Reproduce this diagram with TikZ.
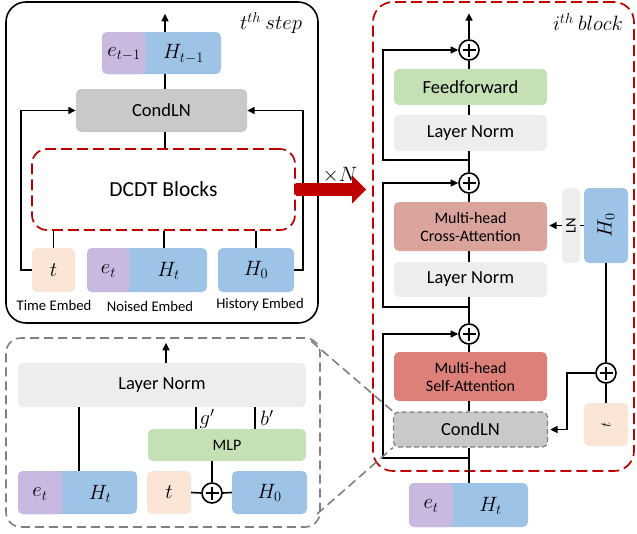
\documentclass[tikz,border=0pt]{standalone}
\usepackage{fontspec}
\setmainfont{Carlito}
\usetikzlibrary{arrows.meta}
\definecolor{cpurple}{RGB}{201,185,224}
\definecolor{cblue}{RGB}{157,195,230}
\definecolor{cpeach}{RGB}{251,229,214}
\definecolor{cgray}{RGB}{201,201,201}
\definecolor{clight}{RGB}{237,237,237}
\definecolor{cgreen}{RGB}{197,224,180}
\definecolor{ccross}{RGB}{218,163,155}
\definecolor{cself}{RGB}{222,128,122}
\definecolor{cred}{RGB}{192,0,0}
\definecolor{cdash}{RGB}{128,128,128}
\newcommand{\myfmain}{\fontsize{18.5}{20}\selectfont}
\newcommand{\myfmid}{\fontsize{16}{19}\selectfont}
\newcommand{\myfsmall}{\fontsize{14.7}{16}\selectfont}
\newcommand{\myfbig}{\fontsize{21.5}{24}\selectfont}
\newcommand{\myfmath}{\fontsize{19.5}{21}\selectfont}
\newcommand{\myfmathsm}{\fontsize{15}{17}\selectfont}
\begin{document}
\begin{tikzpicture}[x=1pt,y=-1pt,
  box/.style={rounded corners=5pt, inner sep=0pt, align=center, font=\myfmain},
  ln/.style={line width=1.6pt, draw=black},
  arr/.style={line width=1.6pt, draw=black, -{Triangle[length=7.5pt,width=7pt]}},
  plusc/.style={circle, draw, line width=1.6pt, fill=white, minimum size=20pt, inner sep=0pt,
    path picture={\draw[line width=1.6pt] ([xshift=-6.5pt]path picture bounding box.center) -- ([xshift=6.5pt]path picture bounding box.center)
      ([yshift=-6.5pt]path picture bounding box.center) -- ([yshift=6.5pt]path picture bounding box.center);}},
  reddash/.style={draw=cred, line width=1.7pt, dash pattern=on 11pt off 5pt},
  graydash/.style={draw=cdash, line width=1.6pt, dash pattern=on 9pt off 5pt},
  mtext/.style={inner sep=0pt, font=\myfmath},
  splitbox/.style={box, fill=cblue, path picture={\fill[cpurple] (path picture bounding box.north west) rectangle ([xshift=#1]path picture bounding box.south west);}}
]
\useasboundingbox (0,0) rectangle (637,533);

\coordinate (z1) at (311,341);
\coordinate (z2) at (317,514);

% ================= top-left panel =================
\node[draw, line width=1.6pt, rounded corners=20pt, minimum width=312pt, minimum height=321pt, inner sep=0pt] (stepbox) at (162,162.5) {};
\node[font=\myfmath, inner sep=0pt] (steplbl) at (271,23) {$t^{th}\ step$};

\node[splitbox=44pt, minimum width=119pt, minimum height=42pt] (outb) at (161.5,53) {};
\node[mtext] (outE) at (124,54) {$e_{t-1}$};
\node[mtext] (outH) at (183.5,54) {$H_{t-1}$};

\node[box, fill=cgray, minimum width=171pt, minimum height=43pt] (condA) at (161.5,110.5) {CondLN};
\node[box, reddash, rounded corners=15pt, minimum width=263pt, minimum height=81pt, font=\myfbig] (dcdt) at (163.5,189.5) {DCDT Blocks};

\node[box, fill=cpeach, minimum width=43pt, minimum height=44pt, font=\myfmath] (tA) at (53.5,270) {$t$};
\node[splitbox=43pt, minimum width=120pt, minimum height=44pt] (noisA) at (147,270) {};
\node[mtext] (noisE) at (108.5,271) {$e_t$};
\node[mtext] (noisH) at (168.5,271) {$H_t$};
\node[box, fill=cblue, minimum width=76pt, minimum height=44pt, font=\myfmath] (h0A) at (256,270) {$H_0$};

\node[font=\myfsmall, inner sep=0pt] (lblT) at (54,305) {Time Embed};
\node[font=\myfsmall, inner sep=0pt] (lblN) at (150,306) {Noised Embed};
\node[font=\myfsmall, inner sep=0pt] (lblH) at (260,305) {History Embed};

\coordinate (sx) at (165,0);
\draw[ln] (condA.north -| sx) -- (outb.south -| sx);
\draw[arr] (outb.north -| sx) -- ++(0,-18);
\draw[ln] (dcdt.north -| sx) -- (condA.south -| sx);
\coordinate (sxn) at (164,0);
\draw[ln] (noisA.north -| sxn) -- (dcdt.south -| sxn);
\draw[ln] (tA.north) -- (tA.north |- dcdt.south);
\draw[ln] (h0A.north) -- (h0A.north |- dcdt.south);
\draw[arr] (tA.west) -- ++(-11,0) |- (condA.west);
\draw[arr] (h0A.east) -- ++(9,0) |- (condA.east);

% ================= right panel =================
\node[reddash, rounded corners=20pt, minimum width=261pt, minimum height=469pt, inner sep=0pt] (blk) at (503.5,236.5) {};
\node[font=\myfmath, inner sep=0pt] (blklbl) at (588,22) {$i^{th}\ block$};

\draw[cred, line width=13pt, -{Triangle[length=14pt,width=27pt]}, shorten >=6pt] (dcdt.east) -- (dcdt.east -| blk.west);
\node[font=\myfmath, inner sep=0pt] (xN) at (340,175) {$\times N$};

\node[plusc] (pl1) at (469,50) {};
\node[box, fill=cgreen, minimum width=153pt, minimum height=36pt] (ff) at (470.5,87) {Feedforward};
\node[box, fill=clight, minimum width=153pt, minimum height=36pt] (ln1) at (470.5,133) {Layer Norm};
\node[plusc] (pl2) at (469,183) {};
\node[box, fill=ccross, minimum width=153pt, minimum height=49pt, font=\myfmid] (ca) at (470.5,226.5) {Multi-head\\[-1pt]Cross-Attention};
\node[box, fill=clight, minimum width=153pt, minimum height=35pt] (ln2) at (470.5,279.5) {Layer Norm};
\node[plusc] (pl3) at (469,334) {};
\node[box, fill=cself, minimum width=153pt, minimum height=49pt, font=\myfmid] (sa) at (470.5,376.5) {Multi-head\\[-1pt]Self-Attention};
\node[box, fill=cgray, draw=cdash, line width=1.3pt, dash pattern=on 5pt off 3pt, minimum width=154pt, minimum height=35pt] (cond2) at (470.5,429.5) {CondLN};
\node[splitbox=44pt, minimum width=119pt, minimum height=44pt] (etR) at (468.5,505) {};
\node[mtext] (etRE) at (431,506) {$e_t$};
\node[mtext] (etRH) at (490.5,506) {$H_t$};

\node[box, fill=clight, minimum width=18pt, minimum height=75pt] (lnv) at (571,225.5) {};
\node[rotate=90, font=\myfsmall, inner sep=0pt] (lnvT) at (571,225.5) {LN};
\node[box, fill=cblue, minimum width=44pt, minimum height=75pt] (h0v) at (606,225.5) {};
\node[rotate=90, mtext] (h0vT) at (606,225.5) {$H_0$};
\node[plusc] (pl4) at (606,373) {};
\node[box, fill=cpeach, minimum width=44pt, minimum height=43pt] (tv) at (606,424.5) {};
\node[rotate=90, inner sep=0pt, font=\myfmathsm] (tvT) at (606,424.5) {$t$};

\draw[arr] (pl1.north) -- ++(0,-26);
\draw[ln] (pl1.south) -- (pl1.south |- ff.north);
\draw[ln] (ff.south -| pl1) -- (ln1.north -| pl1);
\draw[ln] (ln1.south -| pl2) -- (pl2.north);
\draw[ln] (pl2.south) -- (pl2.south |- ca.north);
\draw[ln] (ca.south -| pl2) -- (ln2.north -| pl2);
\draw[ln] (ln2.south -| pl3) -- (pl3.north);
\draw[ln] (pl3.south) -- (pl3.south |- sa.north);
\draw[ln] (sa.south -| pl3) -- (cond2.north -| pl3);
\draw[ln] (cond2.south -| pl3) -- (etR.north -| pl3);
\coordinate (r1) at (469,160);
\coordinate (r2) at (469,307);
\coordinate (r3) at (469,458);
\draw[arr] (r1) -- (383,160) |- (pl1.west);
\draw[arr] (r2) -- (383,307) |- (pl2.west);
\draw[arr] (r3) -- (383,458) |- (pl3.west);
\draw[ln] (h0v.west) -- (lnv.east);
\draw[arr, shorten >=2pt] (lnv.west) -- (lnv.west -| ca.east);
\draw[ln] (h0v.south) -- (pl4.north);
\draw[ln] (pl4.south) -- (tv.north);
\coordinate (bend) at (567,373);
\draw[arr, shorten >=2pt] (pl4.west) -- (bend) |- (cond2.east);

% ================= bottom-left panel =================
\node[graydash, rounded corners=15pt, minimum width=314pt, minimum height=189pt, inner sep=0pt] (zoombox) at (163,432.5) {};
\draw[graydash] (z1) -- (cond2.north west);
\draw[graydash] (z2) -- (cond2.south west);

\node[box, fill=clight, minimum width=288pt, minimum height=44pt] (lnB) at (162,385) {Layer Norm};
\node[box, fill=cgreen, minimum width=158pt, minimum height=32pt, font=\myfmid] (mlp) at (227,445) {MLP};
\node[splitbox=44pt, minimum width=119pt, minimum height=43pt] (etB) at (77.5,492.5) {};
\node[mtext] (etBE) at (40,494) {$e_t$};
\node[mtext] (etBH) at (100,494) {$H_t$};
\node[box, fill=cpeach, minimum width=44pt, minimum height=43pt, font=\myfmath] (tB) at (169,492.5) {$t$};
\node[plusc] (plB) at (212,493) {};
\node[box, fill=cblue, minimum width=75pt, minimum height=43pt, font=\myfmath] (h0B) at (269.5,492.5) {$H_0$};

\coordinate (sxb) at (166,0);
\draw[arr] (lnB.north -| sxb) -- ++(0,-20);
\coordinate (ex) at (79,0);
\draw[ln] (etB.north -| ex) -- (lnB.south -| ex);
\coordinate (gx) at (196,0);
\coordinate (bx) at (255,0);
\draw[ln] (mlp.north -| gx) -- (lnB.south -| gx);
\draw[ln] (mlp.north -| bx) -- (lnB.south -| bx);
\node[mtext] (gl) at (207,419) {$g'$};
\node[mtext] (bl) at (267,418) {$b'$};
\draw[ln] (mlp.south -| plB) -- (plB.north);
\draw[ln] (tB.east) -- (plB.west);
\draw[ln] (plB.east) -- (h0B.west);
\end{tikzpicture}
\end{document}
